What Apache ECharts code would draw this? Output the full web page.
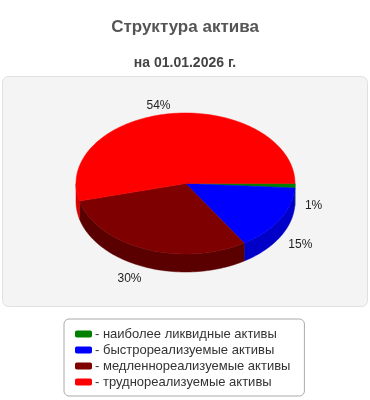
<!DOCTYPE html>
<html>
<head>
<meta charset="utf-8">
<script src="https://cdn.jsdelivr.net/npm/echarts@6/dist/echarts.min.js"></script>
<style>
html,body{margin:0;padding:0;background:#fff;}
#c{width:370px;height:400px;}
</style>
</head>
<body>
<div id="c"></div>
<script>
var categories = ['наиболее ликвидные активы', 'быстрореализуемые активы', 'медленнореализуемые активы', 'труднореализуемые активы'];
var values = [1, 15, 30, 54];
var labels = ['1%', '15%', '30%', '54%'];
var topColors = ['#008000', '#0000ff', '#7f0000', '#ff0000'];
var sideColors = ['#005800', '#0000c8', '#5a0000', '#d80000'];

var FONT = '"Liberation Sans", Arial, sans-serif';
var total = values.reduce(function (a, b) { return a + b; }, 0);
var cum = [];
var acc = 0;
for (var i = 0; i < values.length; i++) { cum.push([acc / total * 360, (acc + values[i]) / total * 360]); acc += values[i]; }

var PIE = { cx: 185.5, cy: 183.5, rx: 109.5, ry: 70.5, depth: 18 };

function pt(a, dy) {
  var r = a * Math.PI / 180;
  return [PIE.cx + PIE.rx * Math.cos(r), PIE.cy + PIE.ry * Math.sin(r) + (dy || 0)];
}
function arc(a0, a1, dy) {
  var pts = [];
  var n = Math.max(2, Math.ceil((a1 - a0) / 1.5));
  for (var k = 0; k <= n; k++) pts.push(pt(a0 + (a1 - a0) * k / n, dy));
  return pts;
}

function makeRender(idx) {
  return function (params, api) {
    var a0 = cum[idx][0], a1 = cum[idx][1];
    var children = [];
    var w0 = Math.max(a0, 0), w1 = Math.min(a1, 180);
    if (w1 > w0) {
      var topArc = arc(w0, w1, 0);
      var botArc = arc(w0, w1, PIE.depth).reverse();
      children.push({
        type: 'polygon', z2: 1,
        shape: { points: topArc.concat(botArc) },
        style: { fill: sideColors[idx], stroke: sideColors[idx], lineWidth: 0.5 }
      });
    }
    var pts = [[PIE.cx, PIE.cy]].concat(arc(a0, a1, 0));
    children.push({
      type: 'polygon', z2: 2,
      shape: { points: pts },
      style: { fill: topColors[idx], stroke: topColors[idx], lineWidth: 0.5 }
    });
    var mid = (a0 + a1) / 2;
    var r = mid * Math.PI / 180;
    var off = 10;
    var lx = PIE.cx + (PIE.rx + off) * Math.cos(r);
    var ly = PIE.cy + (PIE.ry + off) * Math.sin(r) + (Math.sin(r) > 0 ? PIE.depth : 0) + 2;
    children.push({
      type: 'text', z2: 3,
      style: {
        x: lx, y: ly, text: labels[idx],
        align: Math.cos(r) >= 0 ? 'left' : 'right',
        verticalAlign: 'middle',
        fill: '#222', font: '12px ' + FONT
      }
    });
    return { type: 'group', children: children };
  };
}

var series = categories.map(function (name, idx) {
  return {
    type: 'custom',
    name: name,
    coordinateSystem: 'none',
    silent: true,
    itemStyle: { color: topColors[idx] },
    data: [[values[idx]]],
    renderItem: makeRender(idx)
  };
});

var chart = echarts.init(document.getElementById('c'), null, { renderer: 'canvas' });
chart.setOption({
  animation: false,
  backgroundColor: '#ffffff',
  title: [
    { text: 'Структура актива', left: 'center', top: 14,
      textStyle: { fontSize: 17, fontWeight: 'bold', color: '#555555', fontFamily: FONT } },
    { text: 'на 01.01.2026 г.', left: 'center', top: 51,
      textStyle: { fontSize: 14, fontWeight: 'bold', color: '#444444', fontFamily: FONT } }
  ],
  graphic: [{
    type: 'rect', z: -10, silent: true,
    shape: { x: 2.5, y: 76.5, width: 365, height: 230, r: 6 },
    style: { fill: '#f4f4f4', stroke: '#e0e0e0', lineWidth: 1 }
  }],
  legend: {
    orient: 'vertical',
    left: 64, top: 319,
    selectedMode: false,
    backgroundColor: '#ffffff',
    borderColor: '#aaaaaa',
    borderWidth: 1,
    borderRadius: 5,
    padding: [8, 14, 7, 11],
    itemGap: 2,
    itemWidth: 17,
    itemHeight: 7,
    icon: 'roundRect',
    data: categories,
    formatter: function (n) { return '- ' + n; },
    textStyle: { fontSize: 13, color: '#333333', fontFamily: FONT, padding: [0, 0, 0, -2], lineHeight: 14 }
  },
  series: series
});
</script>
</body>
</html>
